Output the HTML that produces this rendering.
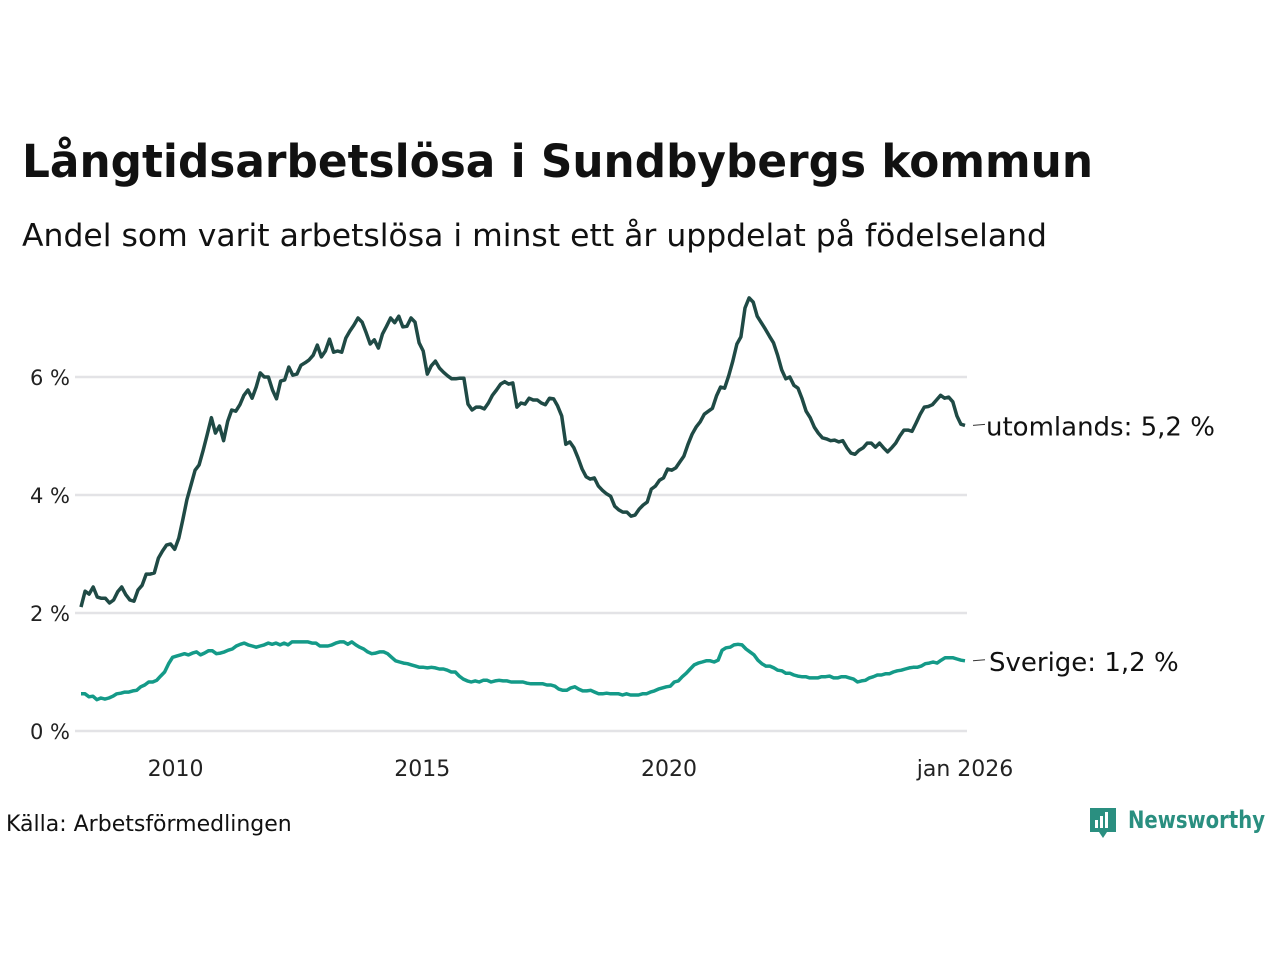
<!DOCTYPE html>
<html><head><meta charset="utf-8">
<style>
body{margin:0;background:#fff;font-family:"DejaVu Sans","Liberation Sans",sans-serif;}
svg{display:block}
</style></head>
<body>
<svg id="chart" width="1280" height="960" viewBox="0 0 1280 960">
<text x="22" y="177" font-size="45" font-weight="bold" fill="#111" textLength="1071" lengthAdjust="spacingAndGlyphs">Långtidsarbetslösa i Sundbybergs kommun</text>
<text x="22" y="246" font-size="31.5" fill="#111" textLength="1025" lengthAdjust="spacingAndGlyphs">Andel som varit arbetslösa i minst ett år uppdelat på födelseland</text>
<g id="grid"></g>
<g id="yaxis"></g>
<g id="xaxis"></g>
<g id="series"></g>
<text x="6" y="831" font-size="22" fill="#111">Källa: Arbetsförmedlingen</text>
<g>
<path d="M1090 808 h26 v24 h-9 l-4 6 l-4 -6 h-9 z" fill="#2a8f80"/>
<rect x="1095" y="820" width="3" height="8" fill="#fff"/><rect x="1100" y="816" width="3" height="12" fill="#fff"/><rect x="1105" y="812" width="3" height="16" fill="#fff"/>
<text x="1128" y="828" font-size="24" font-weight="bold" fill="#2a8f80" textLength="137" lengthAdjust="spacingAndGlyphs">Newsworthy</text>
</g>
</svg>
<script>
const yTicks=[0,2,4,6];
const yTickLabels=["0 %","2 %","4 %","6 %"];
const xTicks=[2010,2015,2020,2026];
const xTickLabels=["2010","2015","2020","jan 2026"];
const seriesNames=["utomlands","Sverige"];
const endLabels=["utomlands: 5,2 %","Sverige: 1,2 %"];
const startT=2008+1/12, endT=2026;
const utomlands=[2.10,2.37,2.32,2.44,2.27,2.25,2.25,2.17,2.22,2.36,2.44,2.31,2.22,2.20,2.39,2.47,2.66,2.66,2.68,2.93,3.05,3.15,3.17,3.08,3.27,3.58,3.92,4.17,4.42,4.51,4.76,5.03,5.31,5.05,5.17,4.92,5.25,5.44,5.42,5.53,5.69,5.78,5.64,5.83,6.07,6.0,6.0,5.78,5.63,5.93,5.95,6.17,6.03,6.05,6.20,6.24,6.29,6.37,6.54,6.34,6.44,6.64,6.42,6.44,6.42,6.66,6.78,6.88,7.0,6.93,6.75,6.56,6.63,6.49,6.73,6.86,7.0,6.92,7.03,6.85,6.86,7.0,6.93,6.58,6.44,6.05,6.19,6.27,6.15,6.08,6.02,5.97,5.97,5.98,5.98,5.54,5.44,5.49,5.49,5.46,5.56,5.69,5.78,5.88,5.92,5.88,5.90,5.49,5.56,5.54,5.64,5.61,5.61,5.56,5.53,5.64,5.63,5.51,5.34,4.86,4.90,4.80,4.63,4.44,4.31,4.27,4.29,4.15,4.08,4.02,3.98,3.81,3.75,3.71,3.71,3.64,3.66,3.76,3.83,3.88,4.10,4.15,4.25,4.29,4.44,4.42,4.46,4.56,4.66,4.86,5.03,5.15,5.24,5.37,5.42,5.47,5.68,5.83,5.81,6.02,6.27,6.56,6.68,7.17,7.34,7.27,7.03,6.92,6.81,6.69,6.58,6.37,6.12,5.97,6.0,5.86,5.81,5.63,5.42,5.31,5.15,5.05,4.97,4.95,4.92,4.93,4.90,4.92,4.80,4.71,4.69,4.76,4.80,4.88,4.88,4.81,4.88,4.80,4.73,4.80,4.88,5.0,5.10,5.10,5.08,5.22,5.37,5.49,5.50,5.53,5.61,5.69,5.64,5.66,5.58,5.34,5.20,5.18];
const sverige=[0.63,0.63,0.58,0.59,0.53,0.56,0.54,0.56,0.59,0.63,0.64,0.66,0.66,0.68,0.69,0.75,0.78,0.83,0.83,0.86,0.93,1.0,1.14,1.25,1.27,1.29,1.31,1.29,1.32,1.34,1.29,1.32,1.36,1.36,1.31,1.32,1.34,1.37,1.39,1.44,1.47,1.49,1.46,1.44,1.42,1.44,1.46,1.49,1.47,1.49,1.46,1.49,1.46,1.51,1.51,1.51,1.51,1.51,1.49,1.49,1.44,1.44,1.44,1.46,1.49,1.51,1.51,1.47,1.51,1.46,1.42,1.39,1.34,1.31,1.32,1.34,1.34,1.31,1.25,1.19,1.17,1.15,1.14,1.12,1.10,1.08,1.08,1.07,1.08,1.07,1.05,1.05,1.03,1.0,1.0,0.93,0.88,0.85,0.83,0.85,0.83,0.86,0.86,0.83,0.85,0.86,0.85,0.85,0.83,0.83,0.83,0.83,0.81,0.80,0.80,0.80,0.80,0.78,0.78,0.76,0.71,0.69,0.69,0.73,0.75,0.71,0.68,0.68,0.69,0.66,0.63,0.63,0.64,0.63,0.63,0.63,0.61,0.63,0.61,0.61,0.61,0.63,0.63,0.66,0.68,0.71,0.73,0.75,0.76,0.83,0.85,0.92,0.98,1.05,1.12,1.15,1.17,1.19,1.19,1.17,1.2,1.37,1.41,1.42,1.46,1.47,1.46,1.39,1.34,1.29,1.2,1.14,1.10,1.10,1.07,1.03,1.02,0.98,0.98,0.95,0.93,0.92,0.92,0.90,0.90,0.90,0.92,0.92,0.93,0.90,0.90,0.92,0.92,0.90,0.88,0.83,0.85,0.86,0.90,0.92,0.95,0.95,0.97,0.97,1.0,1.02,1.03,1.05,1.07,1.08,1.08,1.10,1.14,1.15,1.17,1.15,1.20,1.24,1.24,1.24,1.22,1.20,1.19];

const NS="http://www.w3.org/2000/svg";
const X0=81,X1=965,Y0=731,PXPER=59;
function xs(t){return X0+(t-startT)*(X1-X0)/(endT-startT);}
function ys(v){return Y0-v*PXPER;}
function mk(tag,attrs,parent){const e=document.createElementNS(NS,tag);for(const k in attrs)e.setAttribute(k,attrs[k]);parent.appendChild(e);return e;}
const grid=document.getElementById('grid'),yax=document.getElementById('yaxis'),xax=document.getElementById('xaxis'),ser=document.getElementById('series');
yTicks.forEach((v,i)=>{
  const l=mk('line',{x1:75,x2:967,y1:ys(v),y2:ys(v),stroke:'#e3e3e6','stroke-width':2.5},grid);
  
  
  const t=mk('text',{x:70,y:ys(v)+8,'text-anchor':'end','font-size':21,fill:'#222'},yax);
  t.textContent=yTickLabels[i];
  
  
});
xTicks.forEach((v,i)=>{
  const t=mk('text',{x:xs(v),y:776,'text-anchor':'middle','font-size':22,fill:'#222'},xax);
  t.textContent=xTickLabels[i];
  
  
});
const data=[utomlands,sverige],colors=['#1f4a45','#149a88'];
data.forEach((arr,s)=>{
  const n=arr.length;
  const pts=arr.map((v,i)=>xs(startT+i*(endT-startT)/(n-1)).toFixed(1)+','+ys(v).toFixed(1)).join(' ');
  const p=mk('polyline',{points:pts,fill:'none',stroke:colors[s],'stroke-width':3.5,'stroke-linejoin':'round'},ser);
  
  
  const last=arr[n-1];
  const ly=ys(last);
  const c=mk('line',{x1:X1+8,x2:X1+20,y1:ly,y2:ly-1,stroke:'#333','stroke-width':1},ser);
  
  
  const t=mk('text',{x:X1+21+s*3,y:ly+10,'font-size':26,fill:'#111'},ser);
  t.textContent=endLabels[s];
  
  
});
</script>
</body></html>
